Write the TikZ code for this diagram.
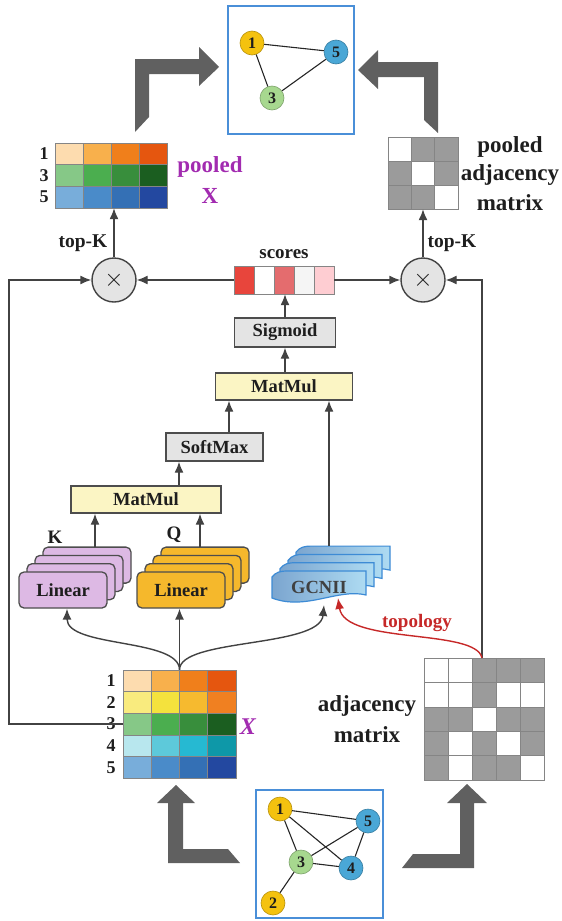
\documentclass[tikz,border=0pt]{standalone}
\usepackage{fontspec}
\setmainfont{Liberation Serif}
\usetikzlibrary{arrows.meta,calc}
\definecolor{lineg}{HTML}{424242}
\definecolor{arrg}{HTML}{606060}
\definecolor{boxb}{HTML}{4D4D4D}
\definecolor{yelbox}{HTML}{FBF5C4}
\definecolor{lgray}{HTML}{E4E4E4}
\definecolor{pinkc}{HTML}{DDB9E4}
\definecolor{qcol}{HTML}{F5B82C}
\definecolor{gcbord}{HTML}{3D8BD5}
\definecolor{gcleft}{HTML}{7BA5CF}
\definecolor{gcright}{HTML}{AEDBF2}
\definecolor{topred}{HTML}{C62828}
\definecolor{purp}{HTML}{A22BB0}
\definecolor{blueb}{HTML}{4A8FD8}
\definecolor{nyel}{HTML}{F4C20F}
\definecolor{nblue}{HTML}{4AA7D6}
\definecolor{ngreen}{HTML}{A7D88F}
\definecolor{gridg}{HTML}{858585}
\definecolor{adjg}{HTML}{9B9B9B}
\definecolor{txt}{HTML}{1E1E1E}
\begin{document}
\begin{tikzpicture}[x=1pt,y=-1pt,
  every node/.style={text=txt},
  arr/.style={draw=lineg, line width=1.4pt, -{Latex[length=11pt,width=9pt]}},
  redarr/.style={draw=topred, line width=1.4pt, -{Latex[length=11pt,width=9pt]}},
  opbox/.style={draw=boxb, line width=1.4pt, inner sep=0pt, font=\bfseries\fontsize{18.5}{18.5}\selectfont},
  linbox/.style={draw=boxb, line width=1.3pt, rounded corners=5pt},
  gnode/.style={circle, minimum size=24pt, inner sep=0pt, fill=#1, draw=#1!75!black, line width=0.6pt, font=\bfseries\fontsize{16}{16}\selectfont},
  lab/.style={inner sep=0pt, font=\bfseries\fontsize{#1}{#1}\selectfont},
  bigarrow/.style={fill=arrg, draw=none},
  graphbox/.style={draw=blueb, line width=1.5pt},
  mcell/.style={draw=gridg, line width=0.6pt},
  cross/.style={circle, draw=lineg, fill=lgray, line width=1.4pt, minimum size=44pt, inner sep=0pt, font=\fontsize{26}{26}\selectfont}
]
\useasboundingbox (0,0) rectangle (562,921);

% ---------- top graph ----------
\draw[graphbox] (228,6) rectangle (354,134);
\node[gnode=nyel] (t1) at (252,43) {1};
\node[gnode=nblue] (t5) at (336,52) {5};
\node[gnode=ngreen] (t3) at (272,98) {3};
\draw[line width=1.1pt, black!85] (t1) -- (t5) (t1) -- (t3) (t3) -- (t5);

% ---------- big arrows ----------
\fill[bigarrow] (135,132) -- (135,59) -- (199,59) -- (199,47) -- (219,67) -- (199,86) -- (199,74) -- (149,74) -- (149,117) -- cycle;
\fill[bigarrow] (438,133) -- (438,62) -- (378,62) -- (378,50) -- (358,70) -- (378,89) -- (378,77) -- (424,77) -- (424,120) -- cycle;
\fill[bigarrow] (176,785) -- (195,803) -- (183,803) -- (183,849) -- (228,849) -- (240,863) -- (168,863) -- (168,803) -- (157,803) -- cycle;
\fill[bigarrow] (467,784) -- (487,803) -- (474,803) -- (474,868) -- (402,868) -- (413,854) -- (460,854) -- (460,803) -- (447,803) -- cycle;

% ---------- pooled X ----------
\node[minimum width=112pt, minimum height=65pt, inner sep=0pt] (PX) at (111,175.5) {};
\foreach \r/\c/\h in {0/0/FDDCAF,0/1/F8B04C,0/2/F07F1B,0/3/E5560F,
                      1/0/86C887,1/1/4BAE4F,1/2/388E3C,1/3/1B5E20,
                      2/0/78ADDA,2/1/4A8BC9,2/2/3470B5,2/3/2348A0}{
  \definecolor{cc}{HTML}{\h}
  \filldraw[mcell, fill=cc] (55+28*\c,143+21.667*\r) rectangle ++(28,21.667);
}
\node[lab=18] (pr1) at (44,154) {1};
\node[lab=18] (pr3) at (44,175.5) {3};
\node[lab=18] (pr5) at (44,197) {5};
\node[lab=23, text=purp] (pxl1) at (210,167) {pooled};
\node[lab=23, text=purp] (pxl2) at (210,196) {X};

% ---------- pooled adjacency ----------
\node[minimum width=70pt, minimum height=72pt, inner sep=0pt] (PA) at (423,173) {};
\foreach \r in {0,1,2}{\foreach \c in {0,1,2}{
  \filldraw[mcell, fill=white] (388+23.333*\c,137+24*\r) rectangle ++(23.333,24);}}
\foreach \r/\c in {0/1,0/2,1/0,1/2,2/0,2/1}{
  \filldraw[mcell, fill=adjg] (388+23.333*\c,137+24*\r) rectangle ++(23.333,24);}
\node[lab=23] (pal1) at (510,147) {pooled};
\node[lab=23] (pal2) at (510,175) {adjacency};
\node[lab=23] (pal3) at (510,203) {matrix};

% ---------- circles & scores ----------
\node[cross] (LC) at (114,280) {$\times$};
\node[cross] (RC) at (423,280) {$\times$};
\node[minimum width=100pt, minimum height=28pt, inner sep=0pt] (S) at (284,280) {};
\foreach \c/\h in {0/E8453C,1/FFFFFF,2/E46C6E,3/F5F5F5,4/FECDD2}{
  \definecolor{cc}{HTML}{\h}
  \filldraw[fill=cc, draw=gridg, line width=0.8pt] (234+20*\c,266) rectangle ++(20,28);
}
\node[lab=19] (scl) at (284,254) {scores};

\draw[arr] (S.west) -- (LC.east);
\draw[arr] (S.east) -- (RC.west);
\draw[arr] (LC.north) -- (LC.north |- PX.south);
\draw[arr] (RC.north) -- (RC.north |- PA.south);
\node[lab=19.5] (tk1) at (83,243) {top-K};
\node[lab=19.5] (tk2) at (452,243) {top-K};

% ---------- operator boxes ----------
\node[opbox, fill=lgray, minimum width=101pt, minimum height=29pt] (SG) at (285,332.5) {Sigmoid};
\node[opbox, fill=yelbox, minimum width=137pt, minimum height=27pt] (MT) at (284,386.5) {MatMul};
\node[opbox, fill=lgray, minimum width=97pt, minimum height=28pt] (SM) at (214.5,447) {SoftMax};
\node[opbox, fill=yelbox, minimum width=150pt, minimum height=27pt] (ML) at (146,499.5) {MatMul};

\draw[arr] (SG.north) -- (SG.north |- S.south);
\draw[arr] (MT.north -| SG.north) -- (SG.south);
\draw[arr] ([xshift=14.5pt]SM.north) -- ([xshift=14.5pt]SM.north |- MT.south);
\draw[arr] ([xshift=33pt]ML.north) -- ([xshift=33pt]ML.north |- SM.south);

% ---------- Linear stacks ----------
\foreach \k in {3,2,1}{
  \draw[linbox, fill=pinkc] (19+8*\k,572-8.3*\k) rectangle ++(88,36);
  \draw[linbox, fill=qcol] (137+8*\k,572-8.3*\k) rectangle ++(88,36);
}
\node[linbox, fill=pinkc, minimum width=88pt, minimum height=36pt, inner sep=0pt, font=\bfseries\fontsize{18.5}{18.5}\selectfont] (KL) at (63,590) {Linear};
\node[linbox, fill=qcol, minimum width=88pt, minimum height=36pt, inner sep=0pt, font=\bfseries\fontsize{18.5}{18.5}\selectfont] (QL) at (181,590) {Linear};
\coordinate (KT) at (95,547);
\coordinate (QT) at (200,547);
\draw[arr] (KT) -- (KT |- ML.south);
\draw[arr] (QT) -- (QT |- ML.south);
\node[lab=19] (Klab) at (55,537) {K};
\node[lab=19] (Qlab) at (174,535) {Q};

% ---------- GCNII stack ----------
\foreach \k in {3,2,1,0}{
  \begin{scope}[shift={(8*\k,-8.3*\k)}]
    \path[draw=gcbord, line width=1.2pt, left color=gcleft, right color=gcright]
      (272,577) .. controls (276,572) and (280,571) .. (288,571) -- (366,571) -- (366,595)
      .. controls (338,588) and (306,611) .. (272,598) -- cycle;
  \end{scope}
}
\node[lab=18.5, text=black!75] (GC) at (319,587) {GCNII};
\coordinate (gctop) at (329,546);
\coordinate (gcin) at (324,605);
\coordinate (topin) at (338,598);
\draw[arr] (gctop) -- (gctop |- MT.south);

% ---------- X matrix ----------
\node[minimum width=113pt, minimum height=108pt, inner sep=0pt] (X) at (179.5,724) {};
\foreach \r/\c/\h in {0/0/FDDCAF,0/1/F8B04C,0/2/F07F1B,0/3/E5560F,
                      1/0/F9EB7E,1/1/F4E23D,1/2/F6BA2F,1/3/F08021,
                      2/0/86C887,2/1/4BAE4F,2/2/388E3C,2/3/1B5E20,
                      3/0/B8E7EE,3/1/5DC9DA,3/2/26B9D2,3/3/0E98A8,
                      4/0/78ADDA,4/1/4A8BC9,4/2/3470B5,4/3/2348A0}{
  \definecolor{cc}{HTML}{\h}
  \filldraw[mcell, fill=cc] (123+28.25*\c,670+21.6*\r) rectangle ++(28.25,21.6);
}
\foreach \i/\n in {0/1,1/2,2/3,3/4,4/5}{
  \node[lab=18] (xr\n) at (111,680.8+21.6*\i) {\n};
}
\node[lab=24, text=purp, font=\bfseries\itshape\fontsize{24}{24}\selectfont] (xlab) at (248,727) {X};

% ---------- adjacency matrix ----------
\node[minimum width=120pt, minimum height=122pt, inner sep=0pt] (A) at (484,719) {};
\foreach \r in {0,...,4}{\foreach \c in {0,...,4}{
  \filldraw[mcell, fill=white] (424+24*\c,658+24.4*\r) rectangle ++(24,24.4);}}
\foreach \r/\c in {0/2,0/3,0/4,1/2,2/0,2/1,2/3,2/4,3/0,3/2,3/4,4/0,4/2,4/3}{
  \filldraw[mcell, fill=adjg] (424+24*\c,658+24.4*\r) rectangle ++(24,24.4);}
\node[lab=23] (al1) at (367,706) {adjacency};
\node[lab=23] (al2) at (367,735) {matrix};
\coordinate (atop) at (482,658);

% ---------- long connectors ----------
\draw[arr] (X.west) -- ++(-114,0) |- (LC.west);
\draw[arr] (atop) |- (RC.east);

% ---------- X to layers ----------
\draw[arr] (X.north) .. controls (179.5,638) and (67,648) .. ([xshift=4pt]KL.south);
\draw[arr] (X.north) -- (X.north |- QL.south);
\draw[arr] (X.north) .. controls (179.5,638) and (320,648) .. (gcin);
\draw[redarr] (atop) .. controls (476,628) and (345,645) .. (topin);
\node[lab=19, text=topred] (toplab) at (417,623) {topology};

% ---------- bottom graph ----------
\draw[graphbox] (256,790) rectangle (383,918);
\node[gnode=nyel] (b1) at (280,809) {1};
\node[gnode=nblue] (b5) at (368,821) {5};
\node[gnode=ngreen] (b3) at (301,862) {3};
\node[gnode=nblue] (b4) at (351,868) {4};
\node[gnode=nyel] (b2) at (273,903) {2};
\draw[line width=1.1pt, black!85] (b1) -- (b5) (b1) -- (b3) (b1) -- (b4) (b3) -- (b5) (b3) -- (b4) (b5) -- (b4) (b3) -- (b2);
\end{tikzpicture}
\end{document}
